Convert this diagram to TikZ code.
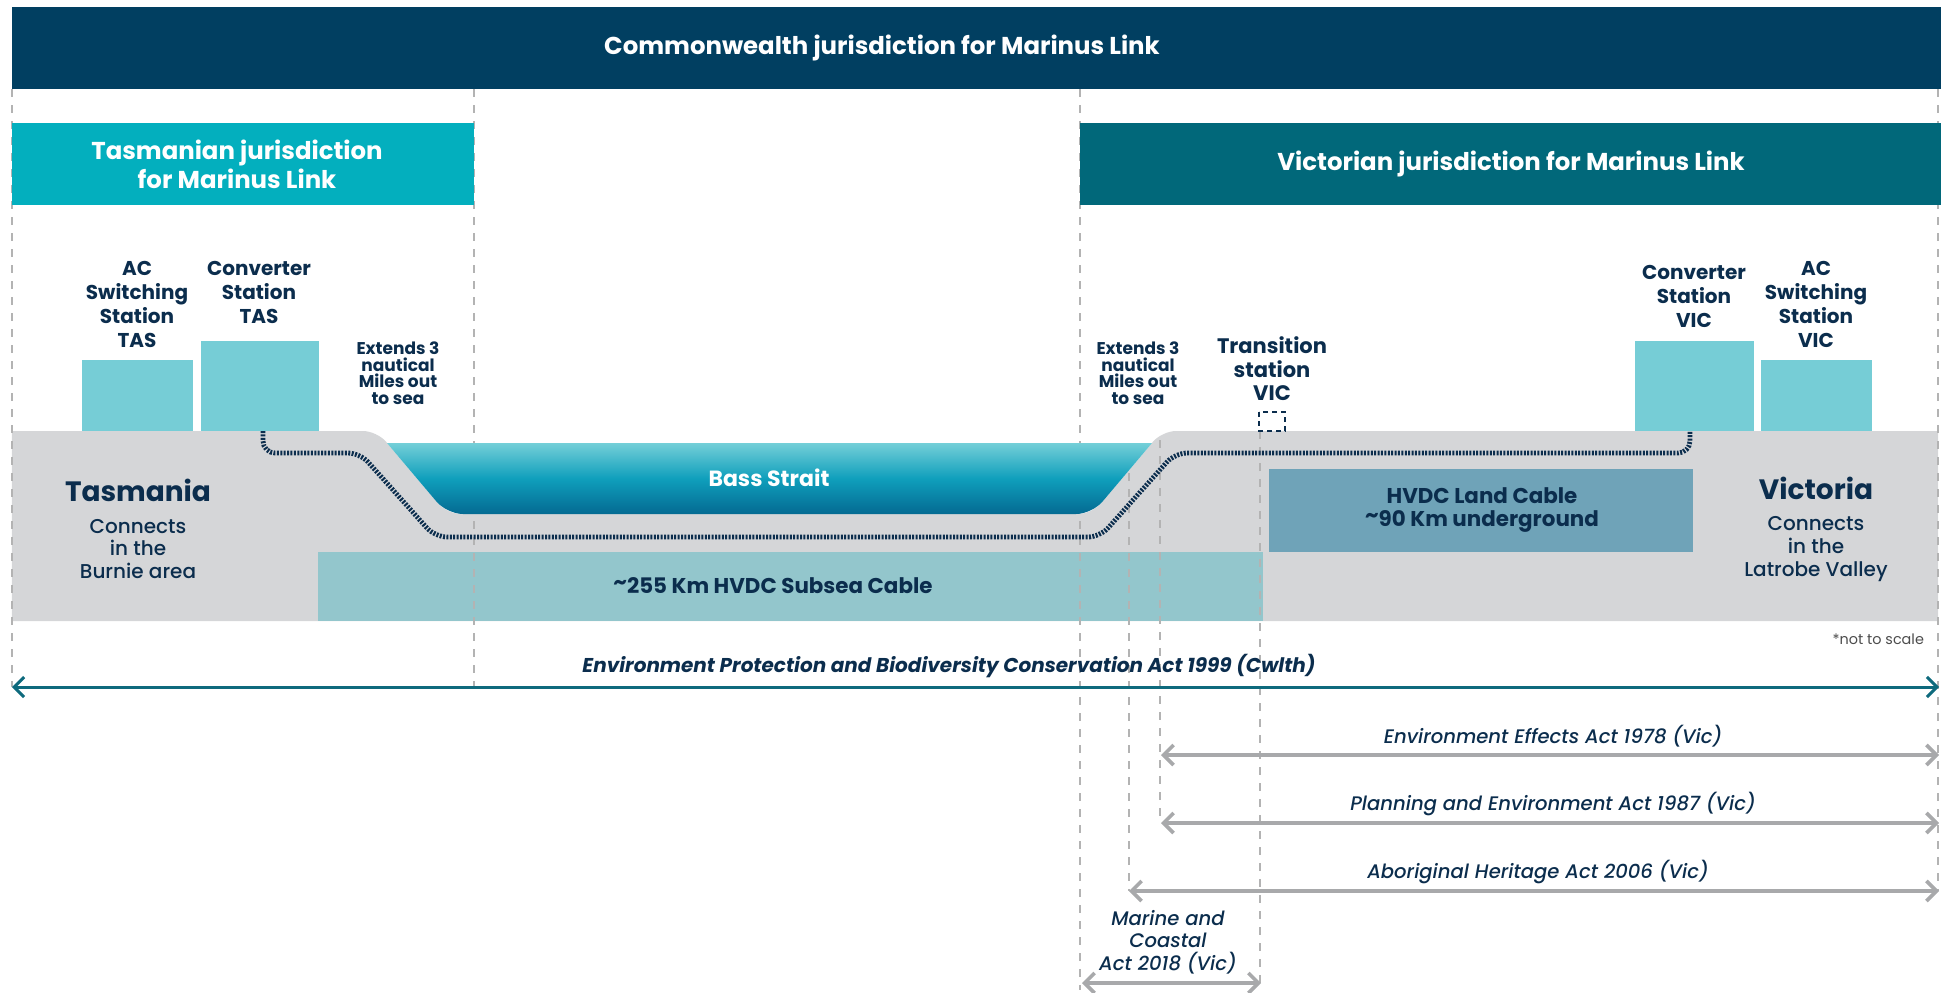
\documentclass[tikz,border=0pt]{standalone}
\usepackage{fontspec}
\setmainfont{Poppins}
\newfontfamily\popmedium{Poppins Medium}[ItalicFont=Poppins Medium Italic]
\usepackage{xcolor}
\usetikzlibrary{arrows.meta}

\definecolor{bannernavy}{HTML}{013F61}
\definecolor{tasteal}{HTML}{03AFBE}
\definecolor{victeal}{HTML}{01687A}
\definecolor{inkblue}{HTML}{0B2D4D}
\definecolor{landgrey}{HTML}{D5D6D8}
\definecolor{stationteal}{HTML}{76CDD6}
\definecolor{subseateal}{HTML}{93C6CC}
\definecolor{landcable}{HTML}{6FA3B8}
\definecolor{seatop}{HTML}{74CFD8}
\definecolor{seamid}{HTML}{0F9FBC}
\definecolor{seabot}{HTML}{046A92}
\definecolor{epbcteal}{HTML}{0E6A7D}
\definecolor{actgrey}{HTML}{A8A9AB}
\definecolor{gridgrey}{HTML}{B3B3B3}

\newcommand{\approxkm}{\raisebox{0.35ex}{\textasciitilde}}

\tikzset{
  gridline/.style={gridgrey, line width=0.8pt, dash pattern=on 4pt off 4pt},
  ropecable/.style={inkblue, line width=2.4pt, dash pattern=on 1pt off 0.7pt, rounded corners=6pt},
  headtxt/.style={white, align=center, font=\bfseries\fontsize{12.2}{14.5}\selectfont},
  sttext/.style={inkblue, align=center, font=\bfseries\fontsize{10}{12}\selectfont},
  seatext/.style={inkblue, align=center, font=\bfseries\fontsize{8.5}{8.25}\selectfont},
  statetxt/.style={inkblue, font=\bfseries\fontsize{14}{16}\selectfont},
  towntxt/.style={inkblue, align=center, font=\popmedium\fontsize{10}{11.3}\selectfont},
  cabletxt/.style={inkblue, align=center, font=\bfseries\fontsize{10.7}{11.5}\selectfont},
  acttxt/.style={inkblue, align=center, font=\popmedium\itshape\fontsize{9.8}{11.25}\selectfont},
  actarrow/.style={actgrey, line width=1.8pt},
}

\begin{document}
\begin{tikzpicture}[x=50pt, y=-50pt, >={Straight Barb[length=5pt,width=10pt]}]

\useasboundingbox (0,0) rectangle (19.45,9.92);

% land and cable boxes
\fill[landgrey] (2.0,4.31) [rounded corners=7pt] -- (3.77,4.31) -- (4.47,5.14) -- (10.92,5.14) -- (11.62,4.31) -- (13.0,4.31) [sharp corners] -- (19.38,4.31) -- (19.38,6.21) -- (0.12,6.21) -- (0.12,4.31) -- cycle;
\fill[subseateal] (3.18,5.52) rectangle (12.63,6.21);
\fill[landcable] (12.69,4.69) rectangle (16.93,5.52);

% jurisdiction guides
\draw[gridline] (0.12,0.89) -- (0.12,6.87);
\draw[gridline] (4.74,0.89) -- (4.74,6.87);
\draw[gridline] (10.80,0.89) -- (10.80,9.90);
\draw[gridline] (11.29,4.73) -- (11.29,8.91);
\draw[gridline] (11.60,4.40) -- (11.60,8.23);
\draw[gridline] (12.60,4.31) -- (12.60,9.90);
\draw[gridline] (19.38,0.89) -- (19.38,8.91);

% Bass Strait
\shade[top color=seatop, bottom color=seabot, middle color=seamid] (7.0,4.43) -- (11.52,4.43) -- (11.22,4.785) [rounded corners=8pt] -- (10.92,5.14) -- (4.47,5.14) -- (4.17,4.785) [sharp corners] -- (3.87,4.43) -- cycle;

% headers
\fill[bannernavy] (0.12,0.07) rectangle (19.41,0.89);
\fill[tasteal] (0.12,1.23) rectangle (4.74,2.05);
\fill[victeal] (10.80,1.23) rectangle (19.41,2.05);
\node[headtxt] (cwlth) at (8.82,0.48) {Commonwealth jurisdiction for Marinus Link};
\node[headtxt] (tasjur) at (2.37,1.64) {Tasmanian jurisdiction\\for Marinus Link};
\node[headtxt] (vicjur) at (15.11,1.64) {Victorian jurisdiction for Marinus Link};

% stations
\fill[stationteal] (0.82,3.60) rectangle (1.93,4.31);
\fill[stationteal] (2.01,3.41) rectangle (3.19,4.31);
\fill[stationteal] (16.35,3.41) rectangle (17.54,4.31);
\fill[stationteal] (17.61,3.60) rectangle (18.72,4.31);
\draw[inkblue, line width=0.8pt, dash pattern=on 2.5pt off 2pt] (12.59,4.12) rectangle (12.85,4.31);

% HVDC cable
\coordinate (cabTAS) at (2.63,4.31);
\coordinate (cabVIC) at (16.90,4.31);
\draw[ropecable] (cabTAS) -- (2.63,4.53) -- (3.60,4.53) -- (4.35,5.37) -- (11.00,5.37) -- (11.75,4.53) -- (16.90,4.53) -- (cabVIC);

% labels
\node[sttext] (acTAS) at (1.37,3.04) {AC\\Switching\\Station\\TAS};
\node[sttext] (convTAS) at (2.59,2.92) {Converter\\Station\\TAS};
\node[seatext] (seaTAS) at (3.98,3.73) {Extends 3\\nautical\\Miles out\\to sea};
\node[seatext] (seaVIC) at (11.38,3.73) {Extends 3\\nautical\\Miles out\\to sea};
\node[sttext, font=\bfseries\fontsize{10.5}{11.75}\selectfont] (transVIC) at (12.72,3.69) {Transition\\station\\VIC};
\node[sttext] (convVIC) at (16.94,2.96) {Converter\\Station\\VIC};
\node[sttext] (acVIC) at (18.16,3.04) {AC\\Switching\\Station\\VIC};

\node[statetxt] (tas) at (1.38,4.90) {Tasmania};
\node[towntxt] (burnie) at (1.38,5.49) {Connects\\in the\\Burnie area};
\node[statetxt] (vic) at (18.16,4.88) {Victoria};
\node[towntxt] (latrobe) at (18.16,5.49) {Connects\\in the\\Latrobe Valley};

\node[white, font=\bfseries\fontsize{11}{12}\selectfont] (bass) at (7.69,4.78) {Bass Strait};
\node[cabletxt] (subsea) at (7.73,5.86) {\approxkm255 Km HVDC Subsea Cable};
\node[cabletxt] (landcab) at (14.82,5.10) {HVDC Land Cable\\\approxkm90 Km underground};
\node[anchor=east, text=black!70, font=\fontsize{7.2}{8}\selectfont] (scale) at (19.31,6.39) {*not to scale};

% acts
\coordinate (epbcL) at (0.12,6.87);
\coordinate (epbcR) at (19.39,6.87);
\draw[epbcteal, line width=1.5pt, <->] (epbcL) -- (epbcR);
\node[acttxt, font=\bfseries\itshape\fontsize{10}{11}\selectfont] (epbc) at (9.49,6.66) {Environment Protection and Biodiversity Conservation Act 1999 (Cwlth)};

\coordinate (eeaL) at (11.61,7.55);
\coordinate (eeaR) at (19.39,7.55);
\draw[actarrow, <->] (eeaL) -- (eeaR);
\node[acttxt] (eea) at (15.53,7.36) {Environment Effects Act 1978 (Vic)};

\coordinate (peaL) at (11.61,8.23);
\coordinate (peaR) at (19.39,8.23);
\draw[actarrow, <->] (peaL) -- (peaR);
\node[acttxt] (pea) at (15.53,8.04) {Planning and Environment Act 1987 (Vic)};

\coordinate (ahaL) at (11.29,8.91);
\coordinate (ahaR) at (19.39,8.91);
\draw[actarrow, <->] (ahaL) -- (ahaR);
\node[acttxt] (aha) at (15.38,8.72) {Aboriginal Heritage Act 2006 (Vic)};

\coordinate (macL) at (10.82,9.83);
\coordinate (macR) at (12.61,9.83);
\draw[actarrow, <->] (macL) -- (macR);
\node[acttxt] (mac) at (11.68,9.42) {Marine and\\Coastal\\Act 2018 (Vic)};

\end{tikzpicture}
\end{document}
